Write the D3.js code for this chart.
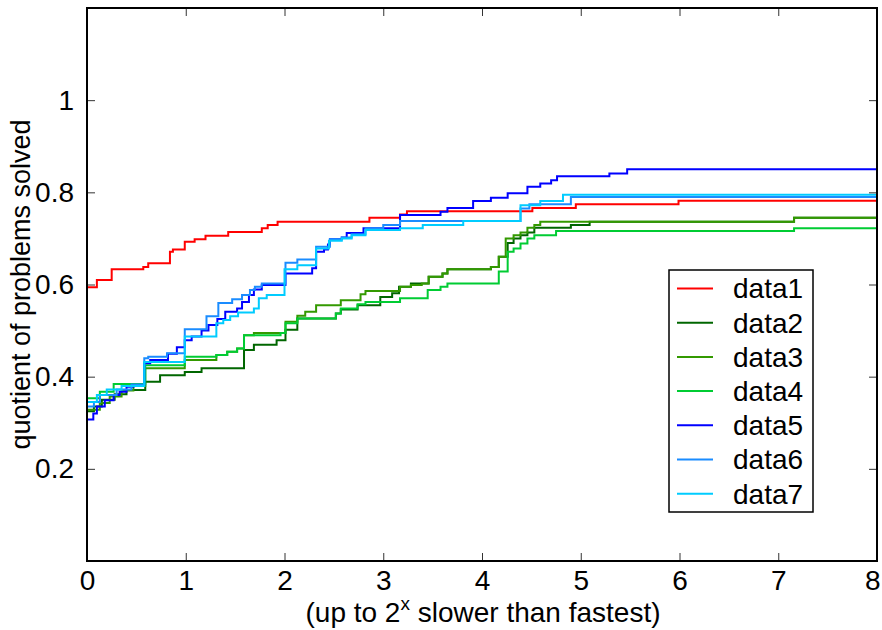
<!DOCTYPE html>
<html>
<head>
<meta charset="utf-8">
<script src="https://cdn.jsdelivr.net/npm/d3@7"></script>
<style>
  body { margin: 0; background: #fff; }
  svg text { font-family: "Liberation Sans", Arial, Helvetica, sans-serif; fill: #000; }
</style>
</head>
<body>
<div id="chart"></div>
<script>
// step points [x, quotient]
const data1 = [[0,0.594],[0.10,0.610],[0.25,0.633],[0.57,0.638],[0.62,0.646],[0.84,0.671],[0.87,0.676],[0.99,0.693],[1.09,0.698],[1.20,0.706],[1.43,0.714],[1.77,0.722],[1.83,0.729],[1.93,0.736],[2.86,0.745],[3.17,0.752],[3.24,0.759],[4.51,0.766],[4.95,0.774],[5.99,0.782],[8,0.782]];
const data2 = [[0,0.325],[0.07,0.335],[0.15,0.350],[0.28,0.362],[0.40,0.371],[0.59,0.389],[0.74,0.403],[0.99,0.410],[1.16,0.418],[1.59,0.458],[1.69,0.469],[1.92,0.479],[2.01,0.502],[2.13,0.526],[2.52,0.537],[2.57,0.546],[2.74,0.555],[2.97,0.573],[3.09,0.581],[3.16,0.595],[3.28,0.602],[3.46,0.617],[3.60,0.624],[3.65,0.633],[4.09,0.638],[4.17,0.660],[4.26,0.690],[4.32,0.700],[4.39,0.707],[4.46,0.713],[4.53,0.723],[4.90,0.729],[5.09,0.736],[7.16,0.745],[8,0.745]];
const data3 = [[0,0.328],[0.13,0.343],[0.23,0.357],[0.35,0.370],[0.47,0.380],[0.59,0.418],[0.99,0.436],[1.31,0.447],[1.42,0.454],[1.52,0.461],[1.59,0.490],[1.69,0.495],[2.01,0.519],[2.13,0.532],[2.21,0.541],[2.32,0.555],[2.57,0.566],[2.77,0.579],[2.82,0.586],[3.17,0.595],[3.28,0.599],[3.39,0.602],[3.46,0.617],[3.60,0.624],[3.65,0.633],[4.09,0.638],[4.17,0.660],[4.24,0.700],[4.32,0.707],[4.39,0.713],[4.46,0.723],[4.53,0.729],[4.59,0.736],[7.16,0.745],[8,0.745]];
const data4 = [[0,0.353],[0.13,0.367],[0.27,0.384],[0.59,0.425],[0.99,0.443],[1.31,0.447],[1.42,0.454],[1.52,0.461],[1.59,0.490],[1.96,0.495],[2.01,0.516],[2.13,0.526],[2.52,0.537],[2.57,0.548],[2.74,0.557],[2.82,0.562],[3.17,0.570],[3.45,0.588],[3.58,0.595],[3.65,0.602],[4.17,0.628],[4.26,0.671],[4.32,0.678],[4.39,0.689],[4.46,0.700],[4.53,0.707],[4.75,0.716],[7.16,0.722],[8,0.722]];
const data5 = [[0,0.307],[0.064,0.320],[0.10,0.335],[0.18,0.349],[0.27,0.360],[0.33,0.367],[0.40,0.378],[0.47,0.382],[0.58,0.429],[0.64,0.436],[0.82,0.450],[0.91,0.464],[0.99,0.479],[1.06,0.487],[1.16,0.500],[1.23,0.512],[1.32,0.525],[1.40,0.541],[1.52,0.548],[1.57,0.562],[1.64,0.577],[1.69,0.589],[1.77,0.599],[2.01,0.624],[2.28,0.635],[2.32,0.671],[2.40,0.676],[2.44,0.687],[2.46,0.698],[2.58,0.702],[2.63,0.712],[2.80,0.722],[3.17,0.751],[3.58,0.758],[3.65,0.766],[3.91,0.781],[4.09,0.788],[4.26,0.798],[4.46,0.812],[4.59,0.819],[4.70,0.826],[4.76,0.835],[5.29,0.841],[5.47,0.850],[8,0.850]];
const data6 = [[0,0.335],[0.07,0.345],[0.13,0.360],[0.30,0.372],[0.45,0.383],[0.58,0.440],[0.62,0.443],[0.81,0.451],[0.99,0.503],[1.21,0.531],[1.33,0.560],[1.47,0.568],[1.57,0.577],[1.65,0.588],[1.70,0.595],[1.77,0.602],[2.01,0.647],[2.13,0.654],[2.32,0.682],[2.46,0.698],[2.58,0.702],[2.68,0.709],[2.82,0.722],[3.00,0.729],[3.17,0.738],[4.39,0.765],[4.48,0.774],[4.90,0.790],[8,0.790]];
const data7 = [[0,0.345],[0.10,0.360],[0.20,0.372],[0.35,0.380],[0.58,0.432],[0.99,0.487],[1.31,0.516],[1.38,0.523],[1.45,0.531],[1.53,0.539],[1.69,0.548],[1.74,0.570],[1.82,0.577],[2.00,0.633],[2.13,0.642],[2.32,0.678],[2.45,0.695],[2.58,0.700],[2.68,0.707],[2.82,0.718],[3.17,0.722],[3.40,0.729],[3.81,0.738],[4.39,0.772],[4.59,0.781],[4.82,0.795],[8,0.797]];

const seriesNames = ['data1', 'data2', 'data3', 'data4', 'data5', 'data6', 'data7'];
const seriesData = [data1, data2, data3, data4, data5, data6, data7];
const seriesColors = ['#ff0000', '#006600', '#339900', '#00cc33', '#0000ff', '#1a8cff', '#00ccff'];
const xTicks = [0, 1, 2, 3, 4, 5, 6, 7, 8];
const yTicks = [0.2, 0.4, 0.6, 0.8, 1];

const width = 882, height = 630;
const margin = {left: 87, right: 5, top: 8, bottom: 69};
const plotW = width - margin.left - margin.right,
    plotH = height - margin.top - margin.bottom;
const fontSize = 28;

const svg = d3.select('#chart').append('svg')
    .attr('width', width)
    .attr('height', height);

const xScale = d3.scaleLinear().domain([0, 8]).range([0, plotW]);
const yScale = d3.scaleLinear().domain([0, 1.2]).range([plotH, 0]);

const plot = svg.append('g')
    .attr('transform', 'translate(' + margin.left + ',' + margin.top + ')');

// curves
const line = d3.line()
    .x(d => xScale(d[0]))
    .y(d => yScale(d[1]))
    .curve(d3.curveStepAfter);

plot.selectAll('path.curve')
    .data(seriesData)
    .enter()
    .append('path')
    .attr('class', 'curve')
    .attr('d', line)
    .attr('fill', 'none')
    .attr('stroke', (d, i) => seriesColors[i])
    .attr('stroke-width', 2);

// axes, ticks pointing inward on all four sides
const tickLen = 8;
const xAxis = d3.axisBottom(xScale).tickValues(xTicks).tickSize(-tickLen).tickPadding(9).tickFormat(d3.format('d'));
const yAxis = d3.axisLeft(yScale).tickValues(yTicks).tickSize(-tickLen).tickPadding(13).tickFormat(d => d === 1 ? '1' : d3.format('.1f')(d));

const gx = plot.append('g').attr('transform', 'translate(0,' + plotH + ')').call(xAxis);
const gy = plot.append('g').call(yAxis);
const gxTop = plot.append('g').call(d3.axisTop(xScale).tickValues(xTicks).tickSize(-tickLen).tickFormat(''));
const gyRight = plot.append('g').attr('transform', 'translate(' + plotW + ',0)')
    .call(d3.axisRight(yScale).tickValues(yTicks).tickSize(-tickLen).tickFormat(''));

[gx, gy, gxTop, gyRight].forEach(g => {
    g.select('.domain').remove();
    g.selectAll('.tick line').attr('stroke', '#333').attr('stroke-width', 1);
    g.selectAll('.tick text').style('font-size', fontSize + 'px').attr('fill', '#000');
});
// keep the last x label inside the window
gx.selectAll('.tick text').filter(d => d === 8).attr('text-anchor', 'end').attr('dx', 3);

plot.append('rect')
    .attr('x', 0).attr('y', 0)
    .attr('width', plotW).attr('height', plotH)
    .attr('fill', 'none')
    .attr('stroke', '#000')
    .attr('stroke-width', 2);

// axis titles
const xTitle = svg.append('text')
    .attr('x', 483)
    .attr('y', 622)
    .attr('text-anchor', 'middle')
    .style('font-size', fontSize + 'px');
xTitle.append('tspan').text('(up to 2');
xTitle.append('tspan').attr('dy', -12).style('font-size', '19px').text('x');
xTitle.append('tspan').attr('dy', 12).text(' slower than fastest)');

svg.append('text')
    .attr('transform', 'translate(30,' + (margin.top + plotH / 2) + ') rotate(-90)')
    .attr('text-anchor', 'middle')
    .style('font-size', '27px')
    .text('quotient of problems solved');

// legend
const legend = svg.append('g').attr('transform', 'translate(669,270)');
legend.append('rect')
    .attr('width', 144).attr('height', 242)
    .attr('fill', '#fff')
    .attr('stroke', '#000')
    .attr('stroke-width', 1.5);
const entry = legend.selectAll('g.entry')
    .data(seriesNames)
    .enter()
    .append('g')
    .attr('class', 'entry')
    .attr('transform', (d, i) => 'translate(0,' + (18.5 + i * 34.2) + ')');
entry.append('line')
    .attr('x1', 8).attr('x2', 44)
    .attr('stroke', (d, i) => seriesColors[i])
    .attr('stroke-width', 2);
entry.append('text')
    .attr('x', 64)
    .attr('dy', '0.35em')
    .style('font-size', fontSize + 'px')
    .text(d => d);
</script>
</body>
</html>
